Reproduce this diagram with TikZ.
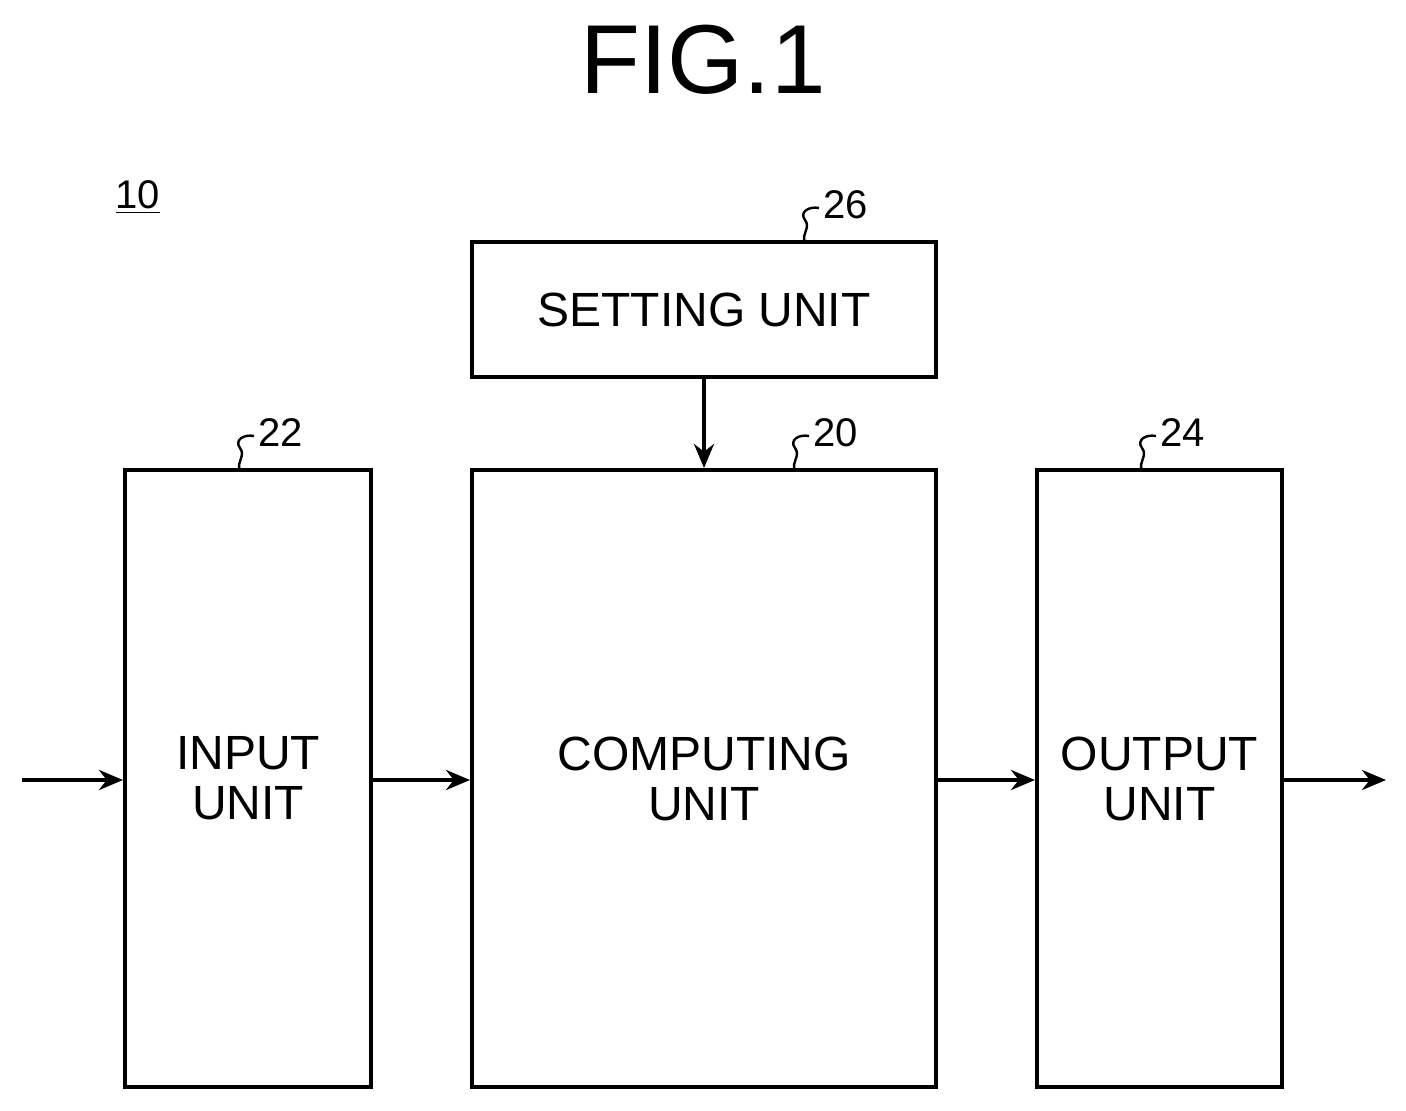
\documentclass[tikz,border=0pt]{standalone}
\usepackage{fontspec}
\setmainfont{Liberation Sans}
\usetikzlibrary{arrows.meta}
\begin{document}
\begin{tikzpicture}[x=0.5pt,y=-0.5pt,
  box/.style={draw,line width=2pt,inner sep=0pt,align=center,font=\fontsize{24}{25}\selectfont},
  arr/.style={line width=2pt,-{Stealth[length=12pt,width=10pt]}},
  lead/.style={line width=1.2pt},
  num/.style={font=\fontsize{20}{22}\selectfont,anchor=west,inner sep=0pt}]
\useasboundingbox (0,0) rectangle (1406,1111);
\node[font=\fontsize{49}{50}\selectfont] (title) at (703,60) {FIG.1};
\node[font=\fontsize{20}{22}\selectfont] (ten) at (138,197) {\underline{10}};
\node[box,minimum width=232pt,minimum height=67.5pt] (set) at (704,309.5) {SETTING UNIT};
\node[box,minimum width=123pt,minimum height=308.5pt] (in) at (248,778.5) {INPUT\\UNIT};
\node[box,minimum width=232pt,minimum height=308.5pt] (comp) at (704,778.5) {COMPUTING\\UNIT};
\node[box,minimum width=122.5pt,minimum height=308.5pt] (out) at (1159.5,778.5) {OUTPUT\\UNIT};
\coordinate (src) at (22,780);
\coordinate (dst) at (1386,780);
\draw[arr] (src) -- (in.west|-src);
\draw[arr] (in.east|-src) -- (comp.west|-src);
\draw[arr] (comp.east|-src) -- (out.west|-src);
\draw[arr] (out.east|-src) -- (dst);
\draw[arr] (set.south) -- (comp.north);
\foreach \x/\y/\lbl/\nm in {805/242/26/a, 240/470/22/b, 795/470/20/c, 1142/470/24/d}{
  \draw[lead] (\x,\y) .. controls (\x-4,\y-8) and (\x+6,\y-14) .. (\x,\y-22)
     .. controls (\x-6,\y-30) and (\x+4,\y-36) .. (\x+14,\y-34);
  \node[num] (n\nm) at (\x+18,\y-37) {\lbl};
}
\end{tikzpicture}
\end{document}
